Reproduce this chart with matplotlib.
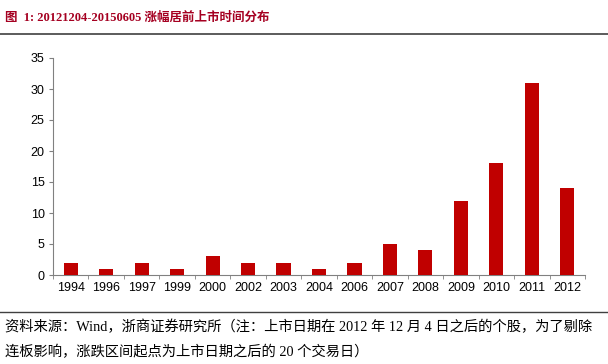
import matplotlib
matplotlib.use("Agg")
import matplotlib.pyplot as plt
from matplotlib.lines import Line2D
import numpy as np

categories = ["1994", "1996", "1997", "1999", "2000", "2002", "2003", "2004",
              "2006", "2007", "2008", "2009", "2010", "2011", "2012"]
values = [2, 1, 2, 1, 3, 2, 2, 1, 2, 5, 4, 12, 18, 31, 14]
yticks = [0, 5, 10, 15, 20, 25, 30, 35]

title = "图  1: 20121204-20150605 涨幅居前上市时间分布"
note1 = "资料来源：Wind，浙商证券研究所（注：上市日期在 2012 年 12 月 4 日之后的个股，为了剔除"
note2 = "连板影响，涨跌区间起点为上市日期之后的 20 个交易日）"

fig = plt.figure(figsize=(6.08, 3.64), dpi=100)
ax = fig.add_axes([53/608, 1-275/364, (585-53)/608, (275-58)/364])

x = np.arange(len(categories))
ax.bar(x, values, width=0.4, color="#C00000", zorder=3)
ax.set_xlim(-0.5, len(categories)-0.5)
ax.set_ylim(0, 35)
ax.set_yticks(yticks)
ax.set_xticks(x)
ax.set_xticklabels(categories, fontfamily=["Liberation Sans"], fontsize=9)
ax.set_yticklabels([str(v) for v in yticks], fontfamily=["Liberation Sans"], fontsize=9)
ax.tick_params(axis="x", length=0, pad=5)
ax.set_xticks(np.arange(len(categories)+1)-0.5, minor=True)
ax.tick_params(axis="x", which="minor", length=3, color="#808080", direction="out")
ax.tick_params(axis="y", length=3, color="#808080", direction="out", pad=3)
for s in ["top", "right"]:
    ax.spines[s].set_visible(False)
for s in ["left", "bottom"]:
    ax.spines[s].set_color("#808080")
    ax.spines[s].set_linewidth(0.8)

fig.text(5/608, 1-18/364, title, fontfamily=["Liberation Serif", "Noto Sans CJK SC"],
         fontweight="bold", fontsize=9, color="#A50021", va="center", ha="left")
fig.add_artist(Line2D([0, 1], [1-34/364, 1-34/364], color="#404040", lw=1.2))
fig.add_artist(Line2D([0, 1], [1-312/364, 1-312/364], color="#404040", lw=1.0))
fig.text(5/608, 1-327/364, note1, fontfamily=["Liberation Serif", "Noto Sans CJK SC"],
         fontsize=10.3, color="#000000", va="center", ha="left")
fig.text(5/608, 1-352/364, note2, fontfamily=["Liberation Serif", "Noto Sans CJK SC"],
         fontsize=10.3, color="#000000", va="center", ha="left")

fig.savefig("out.png", dpi=100)
